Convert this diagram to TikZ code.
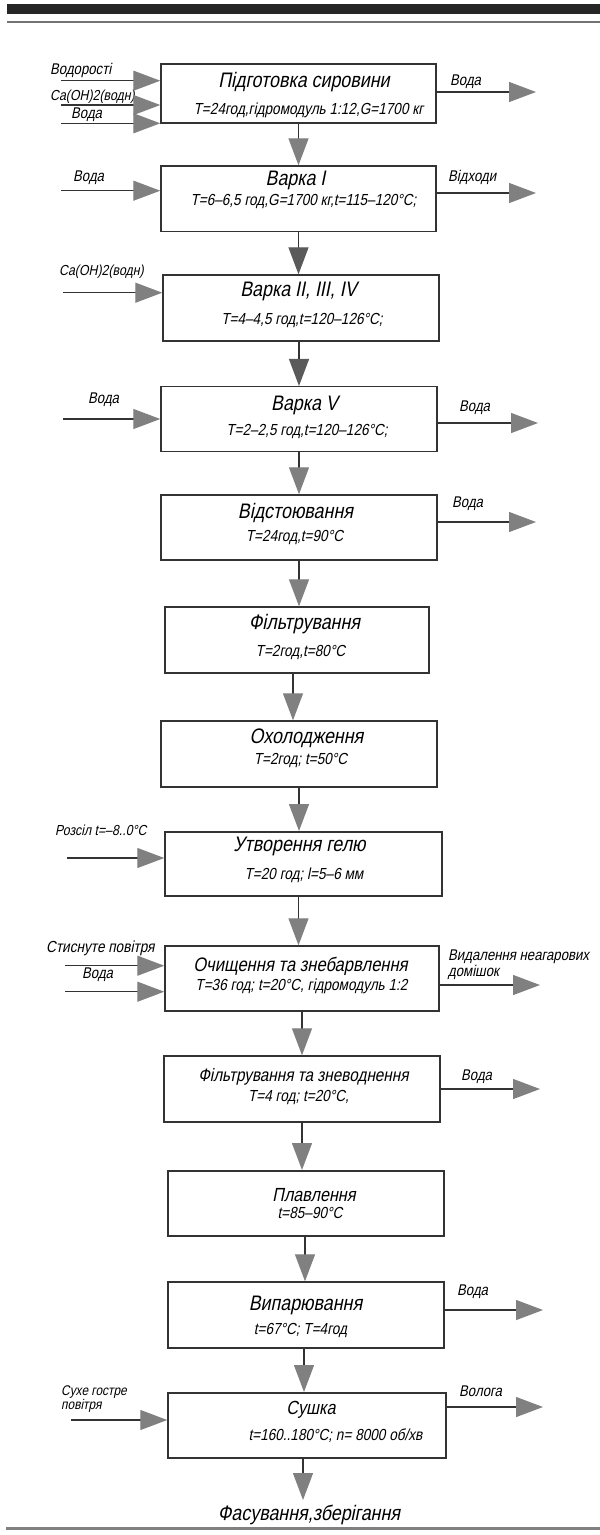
\documentclass[tikz,border=0pt]{standalone}
\usepackage{fontspec}
\newfontfamily\gost[FakeSlant=0.2,FakeStretch=0.85]{Liberation Sans}
\usetikzlibrary{arrows.meta}
\definecolor{linec}{HTML}{333333}
\definecolor{headc}{HTML}{808080}
\definecolor{headd}{HTML}{5A5A5A}
\tikzset{
 box/.style={draw=linec, line width=1.5pt, inner sep=0pt},
 flow/.style={draw=linec, line width=1.3pt, -{Triangle[length=27pt,width=20pt,color=headc]}},
 flowd/.style={draw=linec, line width=1.3pt, -{Triangle[length=27pt,width=20pt,color=headd]}},
 ttl/.style={font=\gost\fontsize{21}{23}\selectfont, inner sep=0pt},
 subt/.style={font=\gost\fontsize{16}{18}\selectfont, inner sep=0pt},
 lbl/.style={font=\gost\fontsize{15.5}{16}\selectfont, inner sep=0pt, anchor=west, align=left},
}
\begin{document}
\begin{tikzpicture}[x=1pt,y=-1pt]
\useasboundingbox (0,0) rectangle (600,1535);
% page rules
\fill[black!85] (7,4) rectangle (600,14);
\draw[line width=2.5pt, black!55] (7,22) -- (600,22);
\draw[line width=3pt, black!50] (6,1528) -- (600,1528);

% boxes
\node[box, minimum width=275pt, minimum height=59pt] (b1) at (298.5,93.5) {};
\node[box, minimum width=275pt, minimum height=65.5pt] (b2) at (298.5,198.8) {};
\node[box, minimum width=276pt, minimum height=65.7pt] (b3) at (301,307.9) {};
\node[box, minimum width=276pt, minimum height=65pt] (b4) at (299,419.2) {};
\node[box, minimum width=276pt, minimum height=65pt] (b5) at (299,527.5) {};
\node[box, minimum width=264pt, minimum height=65.7pt] (b6) at (297,639.9) {};
\node[box, minimum width=276pt, minimum height=65.7pt] (b7) at (299,753.9) {};
\node[box, minimum width=277pt, minimum height=64.3pt] (b8) at (303.5,863.9) {};
\node[box, minimum width=274pt, minimum height=64.7pt] (b9) at (302,978.4) {};
\node[box, minimum width=276pt, minimum height=65.7pt] (b10) at (302,1088.9) {};
\node[box, minimum width=276pt, minimum height=65.3pt] (b11) at (306,1203.4) {};
\node[box, minimum width=276pt, minimum height=65.7pt] (b12) at (306,1314.9) {};
\node[box, minimum width=278pt, minimum height=65.3pt] (b13) at (307,1425.4) {};

% titles and parameters
\node[ttl] (t1) at (304,82) {Підготовка сировини};
\node[subt] (s1) at (308.5,110) {T=24год,гідромодуль 1:12,G=1700 кг};
\node[ttl] (t2) at (295.5,180) {Варка І};
\node[subt] (s2) at (303.5,201.7) {T=6–6,5 год,G=1700 кг,t=115–120°C;};
\node[ttl] (t3) at (298.5,291.7) {Варка ІІ, ІІІ, IV};
\node[subt] (s3) at (302,320) {T=4–4,5 год,t=120–126°C;};
\node[ttl] (t4) at (304.5,405) {Варка V};
\node[subt] (s4) at (307,431.7) {T=2–2,5 год,t=120–126°C;};
\node[ttl] (t5) at (295.5,513) {Відстоювання};
\node[subt] (s5) at (294.5,537) {T=24год,t=90°C};
\node[ttl] (t6) at (304.5,624) {Фільтрування};
\node[subt] (s6) at (300.5,652) {T=2год,t=80°C};
\node[ttl] (t7) at (306.5,738) {Охолодження};
\node[subt] (s7) at (300.5,760) {T=2год; t=50°C};
\node[ttl] (t8) at (299.5,846.7) {Утворення гелю};
\node[subt] (s8) at (304,875) {T=20 год; l=5–6 мм};
\node[ttl, font=\gost\fontsize{19.5}{21}\selectfont] (t9) at (300.5,966.7) {Очищення та знебарвлення};
\node[subt] (s9) at (301.5,986.7) {T=36 год; t=20°C, гідромодуль 1:2};
\node[ttl, font=\gost\fontsize{18}{20}\selectfont] (t10) at (303.5,1077) {Фільтрування та зневоднення};
\node[subt] (s10) at (298.5,1097) {T=4 год; t=20°C,};
\node[ttl, font=\gost\fontsize{19}{21}\selectfont] (t11) at (314,1195) {Плавлення};
\node[subt] (s11) at (310,1213) {t=85–90°C};
\node[ttl] (t12) at (305.5,1305) {Випарювання};
\node[subt] (s12) at (300.5,1330) {t=67°C; T=4год};
\node[ttl, font=\gost\fontsize{19}{21}\selectfont] (t13) at (311,1410) {Сушка};
\node[subt] (s13) at (335.5,1436) {t=160..180°C; n= 8000 об/хв};
\node[ttl] (fin) at (309,1515) {Фасування,зберігання};

% side labels
\node[lbl] (l1a) at (50,70) {Водорості};
\node[lbl, font=\gost\fontsize{14.5}{16}\selectfont] (l1b) at (50,97) {Ca(OH)2(водн)};
\node[lbl] (l1c) at (71,115) {Вода};
\node[lbl] (r1) at (450,82) {Вода};
\node[lbl] (l2) at (73,178) {Вода};
\node[lbl] (r2) at (448,177) {Відходи};
\node[lbl, font=\gost\fontsize{14.5}{16}\selectfont] (l3) at (59,272) {Ca(OH)2(водн)};
\node[lbl] (l4) at (88,400) {Вода};
\node[lbl] (r4) at (459,408) {Вода};
\node[lbl] (r5) at (452,504) {Вода};
\node[lbl, font=\gost\fontsize{14.5}{16}\selectfont] (l8) at (55,830) {Розсіл t=–8..0°C};
\node[lbl, font=\gost\fontsize{16}{16}\selectfont] (l9a) at (46,948) {Стиснуте повітря};
\node[lbl] (l9b) at (82,975) {Вода};
\node[lbl] (r9) at (448,965) {Видалення неагарових\\домішок};
\node[lbl] (r10) at (461,1077) {Вода};
\node[lbl] (r12) at (457,1292) {Вода};
\node[lbl, font=\gost\fontsize{14}{11.5}\selectfont] (l13) at (61,1399) {Сухе гостре\\повітря};
\node[lbl] (r13) at (459,1391) {Волога};

% free ends of side arrows
\coordinate (i1a) at (61,80.7);
\coordinate (i1b) at (61,105);
\coordinate (i1c) at (61,123.3);
\coordinate (o1) at (536,92);
\coordinate (i2) at (61,190.7);
\coordinate (o2) at (536,193);
\coordinate (i3) at (63,292.7);
\coordinate (i4) at (63,419);
\coordinate (o4) at (538,423);
\coordinate (o5) at (536,522);
\coordinate (i8) at (67,858);
\coordinate (i9a) at (65,965.7);
\coordinate (i9b) at (65,991.7);
\coordinate (o9) at (540,985);
\coordinate (o10) at (540,1089);
\coordinate (o12) at (543,1310);
\coordinate (i13) at (71,1420);
\coordinate (o13) at (543,1407);
\coordinate (e13) at (303,1500);

% side arrows
\draw[flow] (i1a) -- (i1a -| b1.west);
\draw[flow] (i1b) -- (i1b -| b1.west);
\draw[flow] (i1c) -- (i1c -| b1.west);
\draw[flow] (o1 -| b1.east) -- (o1);
\draw[flow] (i2) -- (i2 -| b2.west);
\draw[flow] (o2 -| b2.east) -- (o2);
\draw[flow] (i3) -- (i3 -| b3.west);
\draw[flow] (i4) -- (i4 -| b4.west);
\draw[flow] (o4 -| b4.east) -- (o4);
\draw[flow] (o5 -| b5.east) -- (o5);
\draw[flow] (i8) -- (i8 -| b8.west);
\draw[flow] (i9a) -- (i9a -| b9.west);
\draw[flow] (i9b) -- (i9b -| b9.west);
\draw[flow] (o9 -| b9.east) -- (o9);
\draw[flow] (o10 -| b10.east) -- (o10);
\draw[flow] (o12 -| b12.east) -- (o12);
\draw[flow] (i13) -- (i13 -| b13.west);
\draw[flow] (o13 -| b13.east) -- (o13);

% main flow
\draw[flow] (b1.south) -- (b1.south |- b2.north);
\draw[flowd] (b2.south) -- (b2.south |- b3.north);
\draw[flowd] ([xshift=-2pt]b3.south) -- ([xshift=-2pt]b3.south |- b4.north);
\draw[flow] (b4.south) -- (b4.south |- b5.north);
\draw[flow] (b5.south) -- (b5.south |- b6.north);
\draw[flow] ([xshift=-4pt]b6.south) -- ([xshift=-4pt]b6.south |- b7.north);
\draw[flow] (b7.south) -- (b7.south |- b8.north);
\draw[flow] ([xshift=-5pt]b8.south) -- ([xshift=-5pt]b8.south |- b9.north);
\draw[flow] (b9.south) -- (b9.south |- b10.north);
\draw[flow] (b10.south) -- (b10.south |- b11.north);
\draw[flow] ([xshift=-1pt]b11.south) -- ([xshift=-1pt]b11.south |- b12.north);
\draw[flow] ([xshift=-2pt]b12.south) -- ([xshift=-2pt]b12.south |- b13.north);
\draw[flow] (e13 |- b13.south) -- (e13);
\end{tikzpicture}
\end{document}
